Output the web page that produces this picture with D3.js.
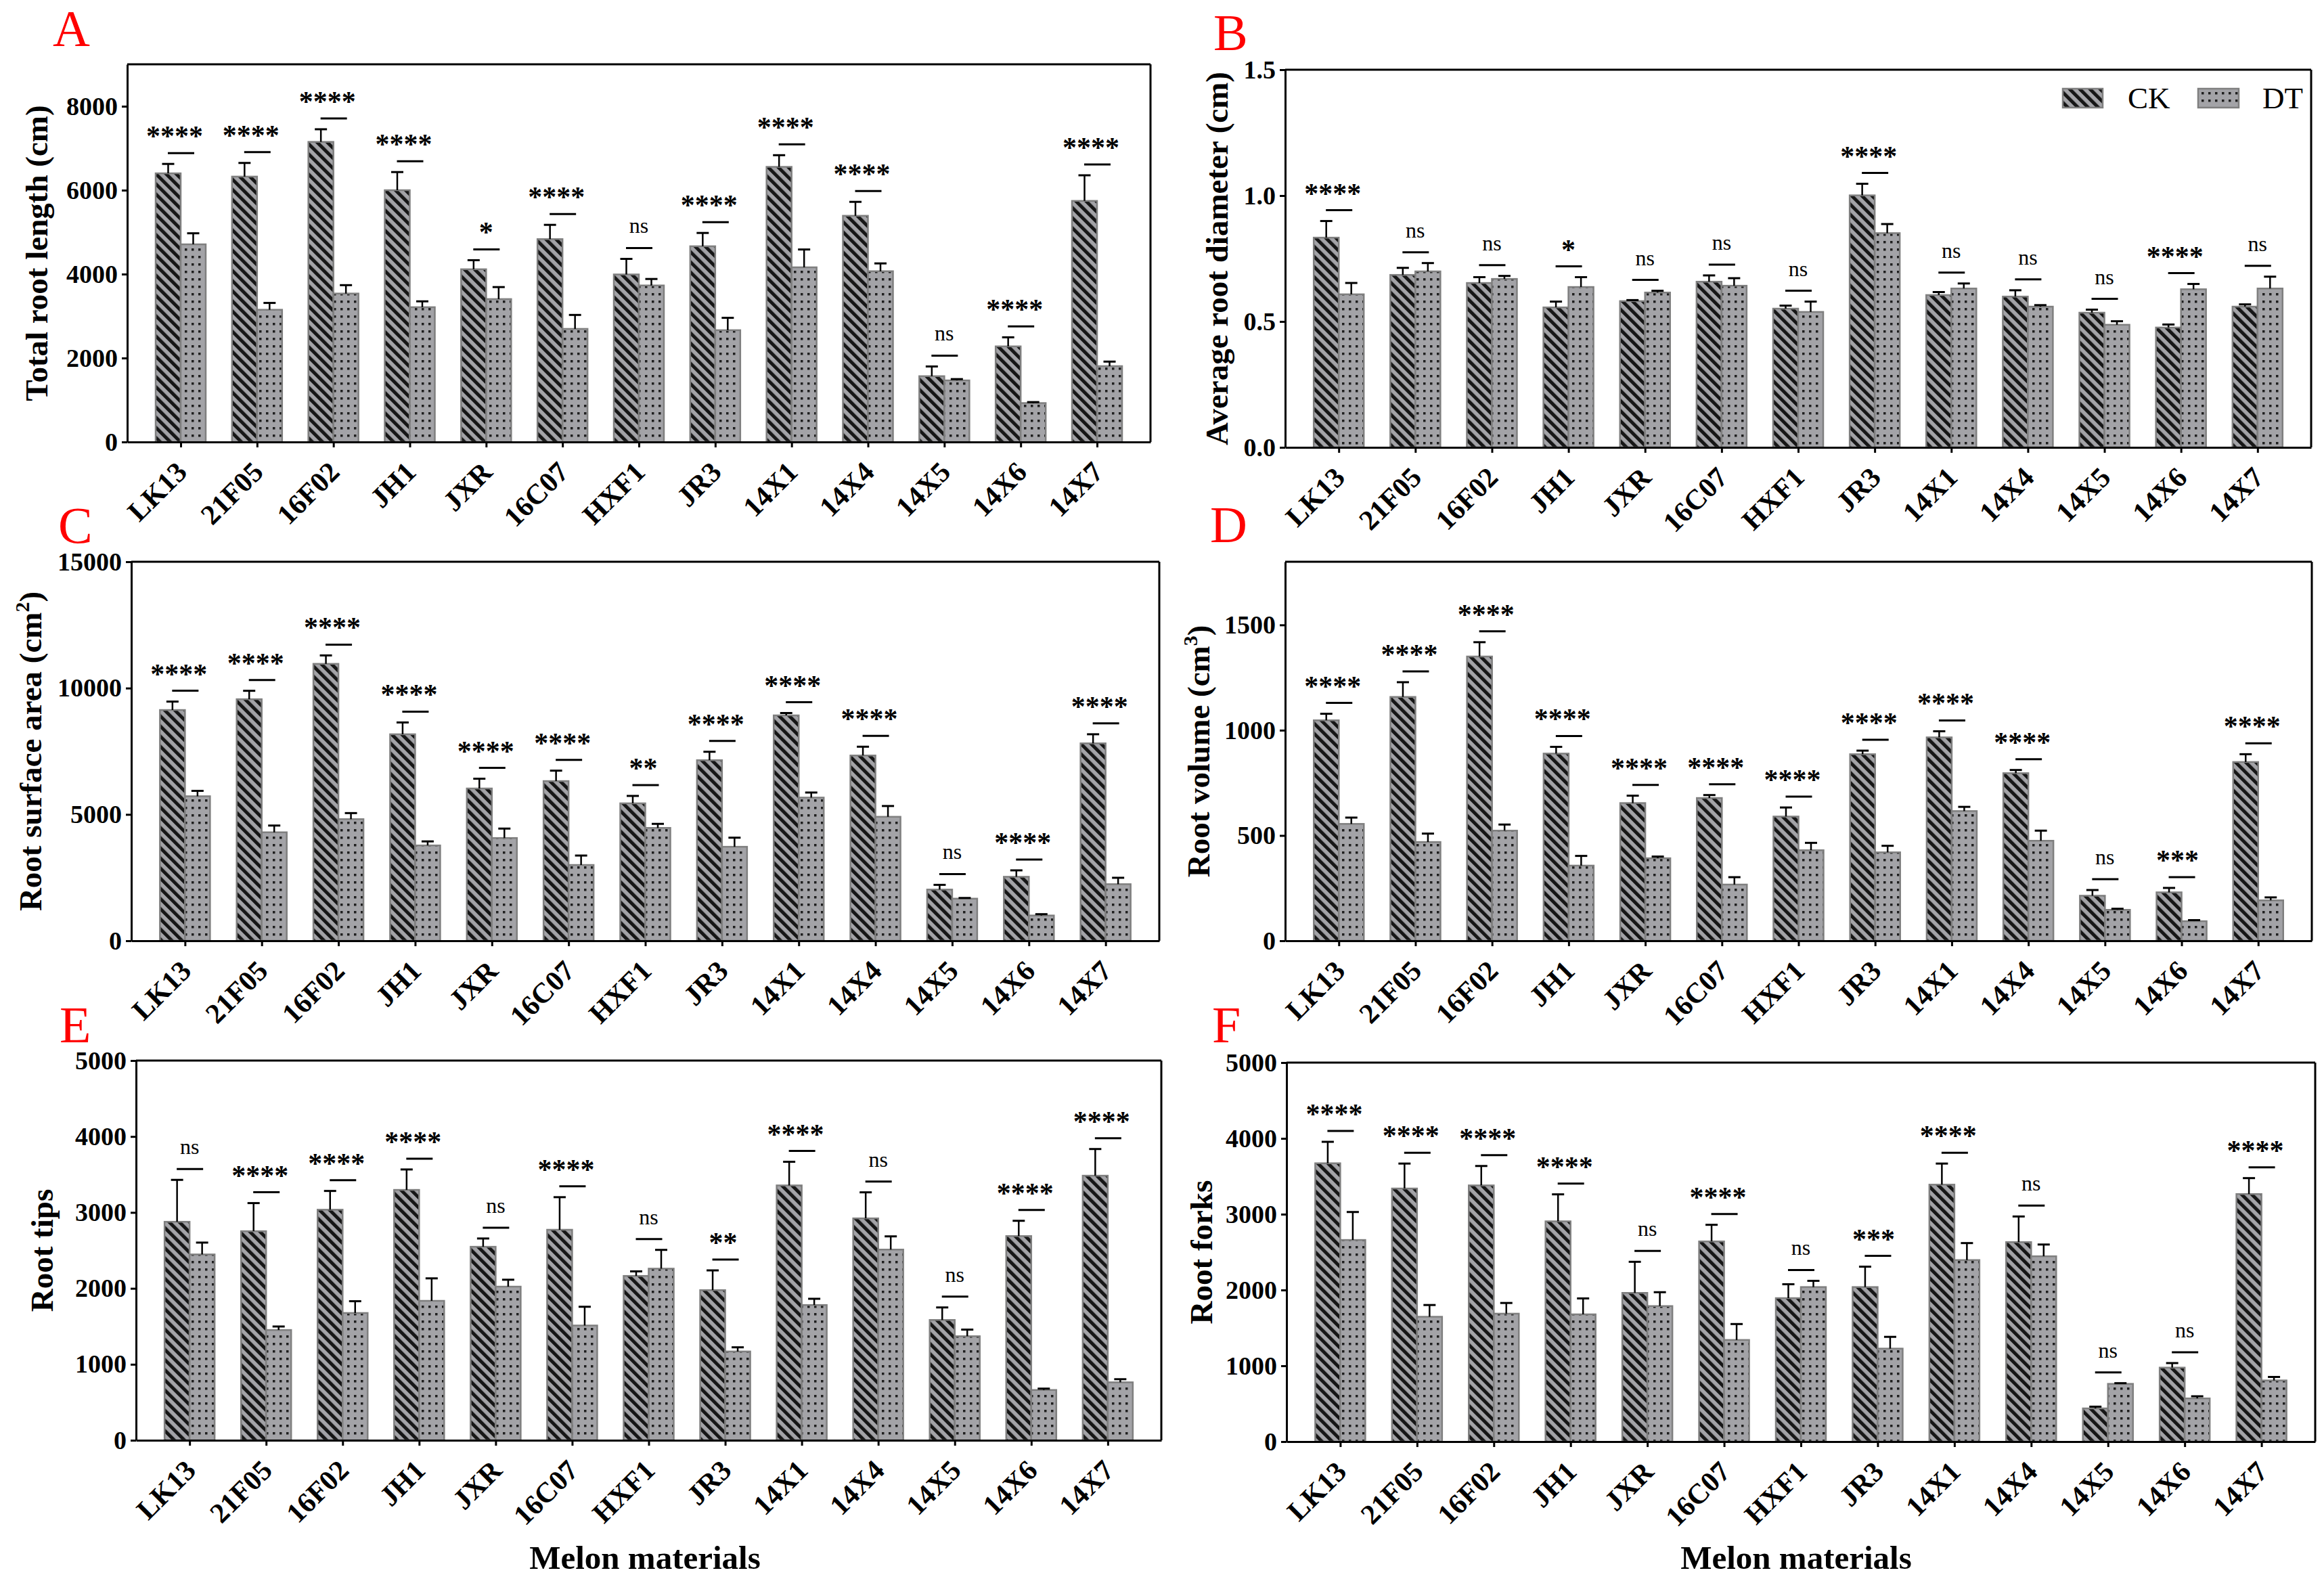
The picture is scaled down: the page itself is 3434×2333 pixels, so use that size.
<!DOCTYPE html>
<html lang="en">
<head>
<meta charset="UTF-8">
<title>Melon root traits</title>
<style>
  body, html { margin: 0; padding: 0; background: #ffffff; }
  svg text { font-family: "Liberation Serif", "Times New Roman", serif; }
</style>
</head>
<body>
<svg id="svg" width="3434" height="2333"></svg>
<script src="https://d3js.org/d3.v7.min.js"></script>
<script>
const materials = ["LK13", "21F05", "16F02", "JH1", "JXR", "16C07", "HXF1", "JR3", "14X1", "14X4", "14X5", "14X6", "14X7"];

// A - total root length (cm)
const lengthCK = [6402, 6324, 7151, 6000, 4116, 4834, 3992, 4664, 6556, 5390, 1568, 2278, 5745];
const lengthCKErr = [224, 325, 301, 432, 216, 340, 371, 317, 278, 332, 231, 216, 610];
const lengthDT = [4710, 3151, 3537, 3212, 3405, 2695, 3730, 2664, 4162, 4069, 1467, 927, 1807];
const lengthDTErr = [263, 162, 200, 139, 286, 332, 154, 294, 425, 186, 31, 23, 108];
const lengthSig = ["****", "****", "****", "****", "*", "****", "ns", "****", "****", "****", "ns", "****", "****"];
const lengthTicks = [0, 2000, 4000, 6000, 8000];

// B - average root diameter (cm)
const diamCK = [0.833, 0.685, 0.653, 0.556, 0.581, 0.658, 0.551, 1.001, 0.605, 0.599, 0.535, 0.476, 0.559];
const diamCKErr = [0.066, 0.028, 0.023, 0.023, 0.004, 0.025, 0.012, 0.046, 0.012, 0.025, 0.012, 0.012, 0.009];
const diamDT = [0.608, 0.699, 0.669, 0.637, 0.615, 0.642, 0.538, 0.851, 0.631, 0.559, 0.487, 0.628, 0.631];
const diamDTErr = [0.045, 0.033, 0.012, 0.039, 0.007, 0.030, 0.041, 0.036, 0.020, 0.006, 0.014, 0.021, 0.047];
const diamSig = ["****", "ns", "ns", "*", "ns", "ns", "ns", "****", "ns", "ns", "ns", "****", "ns"];
const diamTicks = [0, 0.5, 1.0, 1.5];

// C - root surface area (cm2)
const areaCK = [9133, 9560, 10960, 8173, 6027, 6320, 5440, 7147, 8920, 7333, 2027, 2533, 7813];
const areaCKErr = [333, 333, 333, 467, 386, 413, 293, 333, 93, 347, 186, 254, 360];
const areaDT = [5720, 4293, 4813, 3773, 4067, 3000, 4467, 3720, 5667, 4907, 1667, 1000, 2240];
const areaDTErr = [213, 267, 240, 160, 373, 373, 160, 360, 200, 426, 27, 53, 253];
const areaSig = ["****", "****", "****", "****", "****", "****", "**", "****", "****", "****", "ns", "****", "****"];
const areaTicks = [0, 5000, 10000, 15000];

// D - root volume (cm3)
const volCK = [1047, 1158, 1350, 889, 654, 678, 590, 886, 966, 796, 214, 230, 849];
const volCKErr = [31, 70, 68, 32, 35, 14, 43, 17, 29, 15, 27, 21, 37];
const volDT = [555, 469, 523, 357, 392, 267, 430, 420, 616, 475, 147, 93, 192];
const volDTErr = [30, 40, 29, 46, 8, 35, 35, 31, 20, 48, 5, 5, 14];
const volSig = ["****", "****", "****", "****", "****", "****", "****", "****", "****", "****", "ns", "***", "****"];
const volTicks = [0, 500, 1000, 1500];

// E - root tips
const tipsCK = [2877, 2753, 3036, 3297, 2548, 2772, 2164, 1977, 3356, 2922, 1584, 2689, 3484];
const tipsCKErr = [552, 370, 247, 269, 109, 429, 60, 260, 311, 343, 165, 201, 351];
const tipsDT = [2447, 1452, 1676, 1836, 2023, 1511, 2260, 1169, 1781, 2511, 1370, 662, 763];
const tipsDTErr = [156, 46, 155, 296, 91, 247, 247, 55, 82, 174, 87, 18, 41];
const tipsSig = ["ns", "****", "****", "****", "ns", "****", "ns", "**", "****", "ns", "ns", "****", "****"];
const tipsTicks = [0, 1000, 2000, 3000, 4000, 5000];

// F - root forks
const forksCK = [3672, 3339, 3380, 2906, 1962, 2641, 1893, 2039, 3390, 2632, 438, 976, 3266];
const forksCKErr = [283, 329, 256, 356, 410, 219, 183, 269, 278, 338, 23, 60, 210];
const forksDT = [2660, 1647, 1688, 1679, 1788, 1341, 2039, 1227, 2395, 2445, 762, 570, 807];
const forksDTErr = [369, 155, 141, 210, 183, 210, 82, 155, 224, 155, 9, 28, 46];
const forksSig = ["****", "****", "****", "****", "ns", "****", "ns", "***", "****", "ns", "ns", "ns", "****"];
const forksTicks = [0, 1000, 2000, 3000, 4000, 5000];

const panels = [
  { letter: "A", ck: lengthCK, ckErr: lengthCKErr, dt: lengthDT, dtErr: lengthDTErr, sig: lengthSig, ticks: lengthTicks,
    yMax: 9000, fmt: d3.format("d"), title: ["Total root length (cm)"],
    l: 188, t: 95, r: 1700, b: 653, titleX: 70, letterX: 78, letterY: 68 },
  { letter: "B", ck: diamCK, ckErr: diamCKErr, dt: diamDT, dtErr: diamDTErr, sig: diamSig, ticks: diamTicks,
    yMax: 1.5, fmt: d3.format(".1f"), title: ["Average root diameter (cm)"],
    l: 1899, t: 103, r: 3415, b: 661, titleX: 1814, letterX: 1793, letterY: 74, legend: true },
  { letter: "C", ck: areaCK, ckErr: areaCKErr, dt: areaDT, dtErr: areaDTErr, sig: areaSig, ticks: areaTicks,
    yMax: 15000, fmt: d3.format("d"), title: ["Root surface area (cm", "2", ")"],
    l: 194, t: 830, r: 1713, b: 1390, titleX: 61, letterX: 86, letterY: 802 },
  { letter: "D", ck: volCK, ckErr: volCKErr, dt: volDT, dtErr: volDTErr, sig: volSig, ticks: volTicks,
    yMax: 1800, fmt: d3.format("d"), title: ["Root volume (cm", "3", ")"],
    l: 1899, t: 830, r: 3416, b: 1390, titleX: 1787, letterX: 1788, letterY: 801 },
  { letter: "E", ck: tipsCK, ckErr: tipsCKErr, dt: tipsDT, dtErr: tipsDTErr, sig: tipsSig, ticks: tipsTicks,
    yMax: 5000, fmt: d3.format("d"), title: ["Root tips"],
    l: 201, t: 1567, r: 1716, b: 2128, titleX: 78, letterX: 88, letterY: 1540, xTitle: 953 },
  { letter: "F", ck: forksCK, ckErr: forksCKErr, dt: forksDT, dtErr: forksDTErr, sig: forksSig, ticks: forksTicks,
    yMax: 5000, fmt: d3.format("d"), title: ["Root forks"],
    l: 1901, t: 1570, r: 3421, b: 2130, titleX: 1791, letterX: 1791, letterY: 1540, xTitle: 2654 }
];

const barFill = "#a3a3a7";
const barStroke = "#7f7f7f";
const barW = 37;

const svg = d3.select("#svg");
svg.append("rect").attr("width", 3434).attr("height", 2333).attr("fill", "#fff");

const defs = svg.append("defs");
const hatch = defs.append("pattern").attr("id", "hatch")
  .attr("patternUnits", "userSpaceOnUse").attr("width", 10.6).attr("height", 10.6)
  .attr("patternTransform", "rotate(-45)");
hatch.append("rect").attr("width", 10.6).attr("height", 10.6).attr("fill", barFill);
hatch.append("rect").attr("width", 5).attr("height", 10.6).attr("fill", "#161616");

const dots = defs.append("pattern").attr("id", "dots")
  .attr("patternUnits", "userSpaceOnUse").attr("width", 10).attr("height", 11);
dots.append("rect").attr("width", 10).attr("height", 11).attr("fill", barFill);
dots.append("rect").attr("x", 3).attr("y", 4).attr("width", 3.5).attr("height", 3.5).attr("fill", "#1e1e1e");

panels.forEach(p => {
  const g = svg.append("g");
  const x = d3.scalePoint().domain(materials).range([p.l, p.r]).padding(0.7);
  const y = d3.scaleLinear().domain([0, p.yMax]).range([p.b, p.t]);

  const rows = materials.map((m, i) => ({
    m, ck: p.ck[i], ckErr: p.ckErr[i], dt: p.dt[i], dtErr: p.dtErr[i], sig: p.sig[i]
  }));

  // bars
  g.selectAll(".ck").data(rows).enter().append("rect")
    .attr("x", d => x(d.m) - barW).attr("y", d => y(d.ck))
    .attr("width", barW).attr("height", d => p.b - y(d.ck))
    .attr("fill", "url(#hatch)").attr("stroke", barStroke).attr("stroke-width", 2.5);
  g.selectAll(".dt").data(rows).enter().append("rect")
    .attr("x", d => x(d.m)).attr("y", d => y(d.dt))
    .attr("width", barW).attr("height", d => p.b - y(d.dt))
    .attr("fill", "url(#dots)").attr("stroke", barStroke).attr("stroke-width", 2.5);

  // error bars (upper only)
  const errs = [];
  rows.forEach(d => {
    errs.push({ cx: x(d.m) - barW / 2, v: d.ck, e: d.ckErr });
    errs.push({ cx: x(d.m) + barW / 2, v: d.dt, e: d.dtErr });
  });
  g.selectAll(".errv").data(errs).enter().append("line")
    .attr("x1", d => d.cx).attr("x2", d => d.cx)
    .attr("y1", d => y(d.v)).attr("y2", d => y(d.v + d.e))
    .attr("stroke", "#000").attr("stroke-width", 2.5);
  g.selectAll(".errc").data(errs).enter().append("line")
    .attr("x1", d => d.cx - 9).attr("x2", d => d.cx + 9)
    .attr("y1", d => y(d.v + d.e)).attr("y2", d => y(d.v + d.e))
    .attr("stroke", "#000").attr("stroke-width", 3);

  // significance marks
  const sigY = d => Math.min(y(d.ck + d.ckErr), y(d.dt + d.dtErr)) - 16;
  g.selectAll(".sigline").data(rows).enter().append("line")
    .attr("x1", d => x(d.m) - 19).attr("x2", d => x(d.m) + 20)
    .attr("y1", sigY).attr("y2", sigY)
    .attr("stroke", "#000").attr("stroke-width", 3);
  g.selectAll(".sigtext").data(rows).enter().append("text")
    .attr("x", d => d.sig === "ns" ? x(d.m) : x(d.m) - 3 * (d.sig.length - 1))
    .attr("y", d => sigY(d) - (d.sig === "ns" ? 22 : 11))
    .attr("text-anchor", "middle")
    .attr("font-size", d => d.sig === "ns" ? 32 : 42)
    .attr("font-weight", d => d.sig === "ns" ? "normal" : "bold")
    .text(d => d.sig);

  // axes
  const yAxis = g.append("g").attr("transform", `translate(${p.l},0)`)
    .call(d3.axisLeft(y).tickValues(p.ticks).tickFormat(p.fmt).tickSize(8).tickPadding(6).tickSizeOuter(0));
  yAxis.selectAll("text").attr("font-size", 38).attr("font-weight", "bold")
    .attr("font-family", "Liberation Serif, serif").attr("fill", "#000");
  yAxis.selectAll("line").attr("stroke-width", 3);
  yAxis.select(".domain").attr("stroke-width", 3);

  const xAxis = g.append("g").attr("transform", `translate(0,${p.b})`)
    .call(d3.axisBottom(x).tickSize(8).tickSizeOuter(0));
  xAxis.selectAll("text")
    .attr("x", 0).attr("y", 0).attr("dy", 0)
    .attr("transform", "translate(11,47) rotate(-45)")
    .attr("text-anchor", "end")
    .attr("font-size", 42).attr("font-weight", "bold")
    .attr("font-family", "Liberation Serif, serif").attr("fill", "#000");
  xAxis.selectAll("line").attr("stroke-width", 3);
  xAxis.select(".domain").attr("stroke-width", 3);

  // frame top and right
  g.append("line").attr("x1", p.l).attr("x2", p.r).attr("y1", p.t).attr("y2", p.t)
    .attr("stroke", "#000").attr("stroke-width", 3);
  g.append("line").attr("x1", p.r).attr("x2", p.r).attr("y1", p.t).attr("y2", p.b)
    .attr("stroke", "#000").attr("stroke-width", 3);

  // y title
  const tt = g.append("text")
    .attr("transform", `translate(${p.titleX},${(p.t + p.b) / 2}) rotate(-90)`)
    .attr("text-anchor", "middle").attr("font-size", 47).attr("font-weight", "bold");
  tt.append("tspan").text(p.title[0]);
  if (p.title.length > 1) {
    tt.append("tspan").attr("font-size", 30).attr("dy", -18).text(p.title[1]);
    tt.append("tspan").attr("dy", 18).text(p.title[2]);
  }

  // panel letter
  g.append("text").attr("x", p.letterX).attr("y", p.letterY)
    .attr("font-size", 76).attr("fill", "#ff0000").text(p.letter);

  if (p.xTitle) {
    g.append("text").attr("x", p.xTitle).attr("y", 2318)
      .attr("text-anchor", "middle").attr("font-size", 49).attr("font-weight", "bold")
      .text("Melon materials");
  }

  if (p.legend) {
    const lg = g.append("g");
    lg.append("rect").attr("x", 3048).attr("y", 131).attr("width", 59).attr("height", 28)
      .attr("fill", "url(#hatch)").attr("stroke", barStroke).attr("stroke-width", 2.5);
    lg.append("text").attr("x", 3144).attr("y", 160).attr("font-size", 45).text("CK");
    lg.append("rect").attr("x", 3248).attr("y", 131).attr("width", 60).attr("height", 28)
      .attr("fill", "url(#dots)").attr("stroke", barStroke).attr("stroke-width", 2.5);
    lg.append("text").attr("x", 3343).attr("y", 160).attr("font-size", 45).text("DT");
  }
});
</script>
</body>
</html>
